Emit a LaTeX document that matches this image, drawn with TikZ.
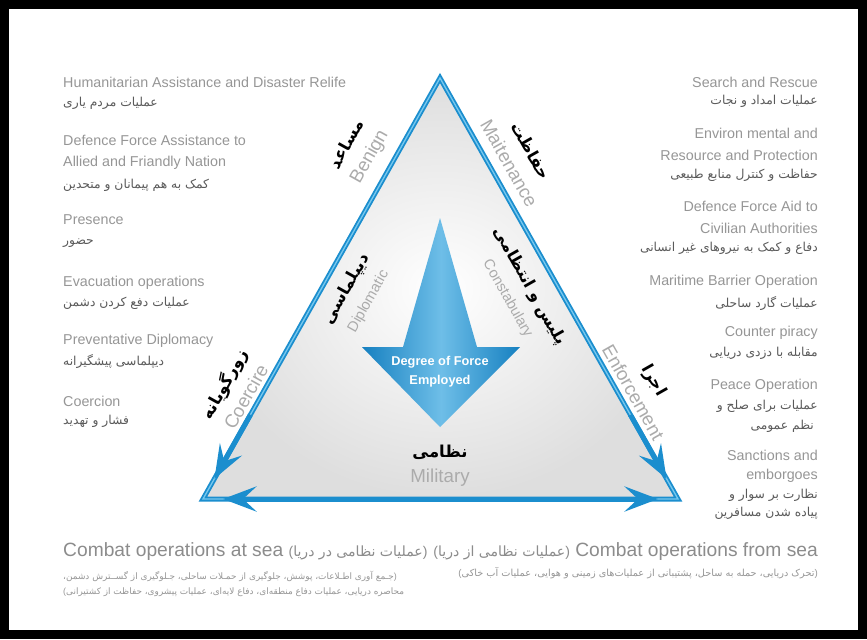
\documentclass[tikz,border=0pt]{standalone}
\usepackage{fontspec}
\setmainfont{Liberation Sans}
\newfontfamily\farsi[Script=Arabic]{DejaVu Sans}
\TeXXeTstate=1
\usetikzlibrary{arrows.meta, calc, positioning}
\definecolor{triblue}{RGB}{27,142,206}
\definecolor{trilight}{RGB}{120,200,238}
\definecolor{arrowblue}{RGB}{22,128,192}
\definecolor{arrowlight}{RGB}{110,190,232}
\definecolor{engray}{RGB}{150,150,150}
\definecolor{fagray}{RGB}{90,90,90}
\newcommand{\rtltext}[1]{\beginR#1\endR}
\newcommand{\sidefa}[1]{{\color{black}\farsi\bfseries\fontsize{14}{16}\selectfont\rtltext{#1}}}

\begin{document}
\begin{tikzpicture}[
    x=0.03cm, y=-0.03cm,
    entext/.style={inner sep=0pt, text=engray, font=\fontsize{12.2}{14}\selectfont},
    fatext/.style={inner sep=0pt, text=fagray, font=\farsi\fontsize{10.5}{13}\selectfont},
    sidepair/.style={inner sep=0pt, align=center, text=black!33, font=\fontsize{16}{18}\selectfont},
    edge/.style={draw=triblue, line width=0.15cm, line join=miter},
    edgehi/.style={draw=trilight, line width=0.04cm, line join=miter},
    tip/.style={draw=triblue, line width=0.15cm, -{Stealth[length=1cm, width=0.75cm, inset=0.4cm]}}
]
    % frame
    \useasboundingbox (0,0) rectangle (867,639);
    \fill[black] (0,0) rectangle (867,639);
    \fill[white] (9,9) rectangle (858,630);

    % triangle
    \coordinate (apex) at (440,78);
    \coordinate (bl) at (203,499);
    \coordinate (br) at (678,499);
    \shade[inner color=white, outer color=black!13] (apex) -- (bl) -- (br) -- cycle;
    \draw[edge] (apex) -- (bl) -- (br) -- cycle;
    \draw[edgehi] (apex) -- (bl) -- (br) -- cycle;
    \draw[tip] ($(apex)!0.8!(bl)$) -- ($(bl)!0.7cm!(apex)$);
    \draw[tip] ($(apex)!0.8!(br)$) -- ($(br)!0.7cm!(apex)$);
    \draw[tip] ($(bl)!0.5!(br)$) -- ($(bl)!0.6cm!(br)$);
    \draw[tip] ($(bl)!0.5!(br)$) -- ($(br)!0.6cm!(bl)$);

    % force arrow
    \shade[left color=arrowblue, right color=arrowblue, middle color=arrowlight]
        (440,218) -- (477,347) -- (520,347) -- (440,427) -- (362,347) -- (403,347) -- cycle;
    \node[inner sep=0pt, text=white, align=center, font=\bfseries\fontsize{10.9}{16}\selectfont] (force) at (440,372) {Degree of Force\\Employed};

    % side labels
    \node[sidepair, rotate=60.6] (benign) at (359,151) {\sidefa{مساعد}\\[4pt]Benign};
    \node[sidepair, rotate=60.6] (diplo) at (357,295) {\sidefa{دیپلماسی}\\[3pt]{\fontsize{12.5}{14}\selectfont Diplomatic}};
    \node[sidepair, rotate=60.6] (coerce) at (234,390) {\sidefa{زورگویانه}\\[4pt]Coercire};
    \node[sidepair, rotate=-60.5] (maint) at (520,157) {\sidefa{حفاظت}\\[4pt]Maitenance};
    \node[sidepair, rotate=-60.5] (const) at (519,292) {\sidefa{پلیس و انتظامی}\\[3pt]{\fontsize{12.5}{14}\selectfont Constabulary}};
    \node[sidepair, rotate=-60.5] (enforce) at (644,386) {\sidefa{اجرا}\\[4pt]Enforcement};
    \node[sidepair] (military) at (440,466) {\sidefa{نظامی}\\[3pt]Military};

    % left column
    \node[entext, anchor=west] (human) at (63,82) {Humanitarian Assistance and Disaster Relife};
    \node[fatext, anchor=west] (humanfa) at (63,103) {\rtltext{عملیات مردم یاری}};
    \node[entext, anchor=west] (allied) at (63,140) {Defence Force Assistance to};
    \node[entext, anchor=west] (allied2) at (63,163) {Allied and Friandly Nation};
    \node[fatext, anchor=west] (alliedfa) at (63,185) {\rtltext{کمک به هم پیمانان و متحدین}};
    \node[entext, anchor=west] (presence) at (63,220) {Presence};
    \node[fatext, anchor=west] (presencefa) at (63,243) {\rtltext{حضور}};
    \node[entext, anchor=west] (evac) at (63,283) {Evacuation operations};
    \node[fatext, anchor=west] (evacfa) at (63,303) {\rtltext{عملیات دفع کردن دشمن}};
    \node[entext, anchor=west] (prevent) at (63,341) {Preventative Diplomacy};
    \node[fatext, anchor=west] (preventfa) at (63,361) {\rtltext{دیپلماسی پیشگیرانه}};
    \node[entext, anchor=west] (coercion) at (63,401) {Coercion};
    \node[fatext, anchor=west] (coercionfa) at (63,421) {\rtltext{فشار و تهدید}};

    % right column
    \node[entext, anchor=east] (search) at (818,82) {Search and Rescue};
    \node[fatext, anchor=east] (searchfa) at (818,101) {\rtltext{عملیات امداد و نجات}};
    \node[entext, anchor=east] (environ) at (818,133) {Environ mental and};
    \node[entext, anchor=east] (environ2) at (818,155) {Resource and Protection};
    \node[fatext, anchor=east] (environfa) at (818,175) {\rtltext{حفاظت و کنترل منابع طبیعی}};
    \node[entext, anchor=east] (aid) at (818,206) {Defence Force Aid to};
    \node[entext, anchor=east] (aid2) at (818,228) {Civilian Authorities};
    \node[fatext, anchor=east] (aidfa) at (818,248) {\rtltext{دفاع و کمک به نیروهای غیر انسانی}};
    \node[entext, anchor=east] (barrier) at (818,282) {Maritime Barrier Operation};
    \node[fatext, anchor=east] (barrierfa) at (818,303) {\rtltext{عملیات گارد ساحلی}};
    \node[entext, anchor=east] (piracy) at (818,333) {Counter piracy};
    \node[fatext, anchor=east] (piracyfa) at (818,353) {\rtltext{مقابله با دزدی دریایی}};
    \node[entext, anchor=east] (peace) at (818,386) {Peace Operation};
    \node[fatext, anchor=east] (peacefa) at (818,406) {\rtltext{عملیات برای صلح و}};
    \node[fatext, anchor=east] (peacefa2) at (814,426) {\rtltext{نظم عمومی}};
    \node[entext, anchor=east] (sanction) at (818,455) {Sanctions and};
    \node[entext, anchor=east] (sanction2) at (818,476) {emborgoes};
    \node[fatext, anchor=east] (sanctionfa) at (818,495) {\rtltext{نظارت بر سوار و}};
    \node[fatext, anchor=east] (sanctionfa2) at (818,513) {\rtltext{پیاده شدن مسافرین}};

    % bottom
    \node[inner sep=0pt, text=black!45, font=\fontsize{16.4}{19}\selectfont, anchor=west] (atsea) at (63,552)
        {Combat operations at sea {\fontsize{12}{14}\selectfont(}{\farsi\fontsize{12}{14}\selectfont\rtltext{عملیات نظامی در دریا}}{\fontsize{12}{14}\selectfont)}};
    \node[inner sep=0pt, text=engray, font=\farsi\fontsize{7.6}{9}\selectfont, anchor=west] (atsea1) at (63,576)
        {\rtltext{جـمع آوری اطـلاعات، پوشش، جلوگیری از حمـلات ساحلی، جـلوگیری از گســترش دشمن،}{\rmfamily)}};
    \node[inner sep=0pt, text=engray, font=\farsi\fontsize{7.6}{9}\selectfont, anchor=west] (atsea2) at (63,592)
        {{\rmfamily(}\rtltext{محاصره دریایی، عملیات دفاع منطقه‌ای، دفاع لایه‌ای، عملیات پیشروی، حفاظت از کشتیرانی}};
    \node[inner sep=0pt, text=black!45, font=\fontsize{16.4}{19}\selectfont, anchor=east] (fromsea) at (818,552)
        {{\fontsize{12}{14}\selectfont(}{\farsi\fontsize{12}{14}\selectfont\rtltext{عملیات نظامی از دریا}}{\fontsize{12}{14}\selectfont)} Combat operations from sea};
    \node[inner sep=0pt, text=engray, font=\farsi\fontsize{8.3}{10}\selectfont, anchor=east] (fromsea1) at (818,573)
        {{\rmfamily(}\rtltext{تحرک دریایی، حمله به ساحل، پشتیبانی از عملیات‌های زمینی و هوایی، عملیات آب خاکی}{\rmfamily)}};
\end{tikzpicture}
\end{document}
